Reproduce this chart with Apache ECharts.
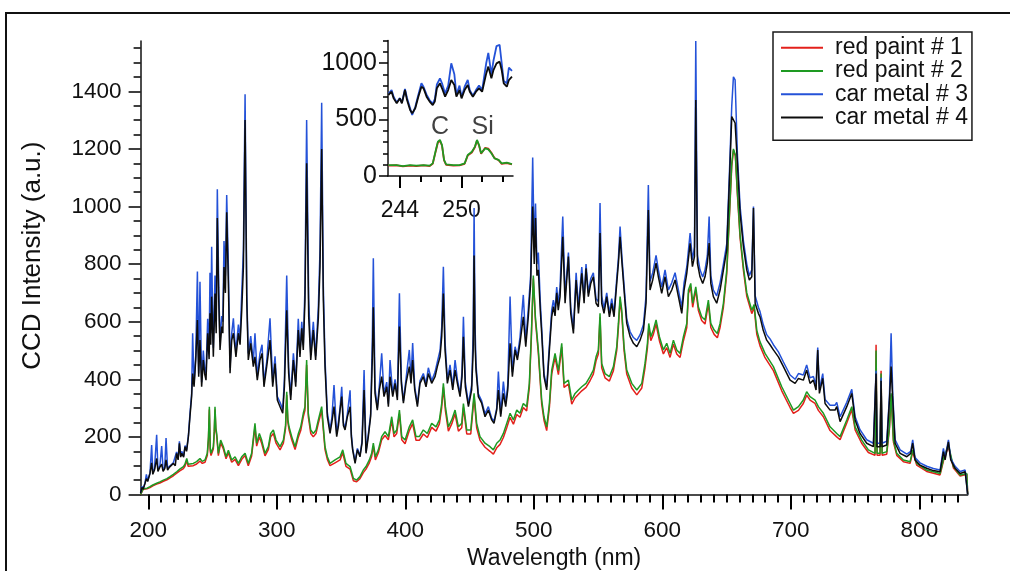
<!DOCTYPE html>
<html><head><meta charset="utf-8">
<script src="https://cdn.jsdelivr.net/npm/echarts@6/dist/echarts.min.js"></script>
<style>html,body{margin:0;padding:0;background:#fff}#c{width:1010px;height:571px}</style>
</head><body><div id="c"></div>
<script>
// ---------- DATA ----------
const seriesNames = ['red paint # 1', 'red paint # 2', 'car metal # 3', 'car metal # 4'];

// car metal spectra (wavelength in nm)
const wlMetal = [
194.0,195.0,196.0,197.4,198.5,199.5,201.3,202.6,203.5,204.8,
206.5,207.5,209.0,210.4,211.5,212.8,213.8,215.0,216.5,218.0,
219.5,221.0,222.0,223.2,224.2,225.2,226.0,227.5,228.6,229.8,
231.2,232.4,233.7,234.5,235.6,236.9,238.2,239.2,240.2,241.5,
242.8,243.8,244.9,246.2,247.3,248.0,248.6,249.3,250.1,250.6,
251.9,252.8,253.7,254.8,255.8,257.1,258.0,258.9,260.0,261.0,
262.3,263.6,264.9,266.2,267.2,268.2,270.1,271.4,272.7,274.0,
275.3,276.6,277.8,279.7,281.7,283.0,284.8,286.9,288.5,290.0,
292.1,294.7,296.8,298.6,300.4,302.5,304.6,305.9,307.7,309.2,
310.8,312.9,314.7,316.7,318.0,319.4,320.6,321.9,323.2,324.8,
326.4,328.4,330.2,332.3,333.6,334.9,336.2,337.5,339.3,341.4,
342.8,344.5,346.6,348.0,349.2,350.5,351.8,353.1,354.9,357.0,
358.0,359.0,360.9,362.7,364.7,366.3,367.9,369.4,371.2,373.0,
374.3,375.1,376.4,378.2,379.8,381.6,383.4,385.5,386.8,388.1,
390.2,392.0,393.8,395.4,396.9,398.5,400.5,403.1,404.4,405.7,
407.3,409.4,411.4,414.0,416.1,417.9,420.5,423.1,424.9,427.0,
428.3,429.6,430.9,432.7,434.8,436.9,438.7,440.5,442.6,444.1,
445.2,446.7,449.1,451.6,452.8,453.5,454.3,455.0,456.8,459.4,
462.0,464.6,467.2,469.0,471.1,472.4,474.2,476.3,478.1,479.7,
481.5,483.3,485.4,487.2,489.2,491.8,493.7,495.7,497.5,499.1,
500.3,501.3,502.4,503.5,505.0,506.1,507.9,510.0,512.1,513.9,
515.2,516.5,517.8,519.0,520.4,522.5,524.3,526.9,528.7,530.8,
532.9,534.7,537.3,539.1,540.6,542.4,544.3,546.3,548.4,550.2,
551.5,552.8,554.6,556.7,558.8,560.6,562.4,564.5,565.8,567.1,
568.6,571.0,572.3,574.9,577.5,580.1,582.7,585.3,587.3,589.1,
590.4,592.5,595.1,596.9,599.5,602.1,604.7,607.3,609.9,612.5,
615.1,616.9,619.0,621.6,623.4,625.0,626.0,627.3,629.3,631.4,
633.2,635.0,636.4,637.7,639.7,642.3,644.9,647.5,650.1,652.2,
654.0,655.3,656.6,658.4,660.5,663.1,665.7,667.7,669.6,670.9,
672.2,674.7,676.0,678.5,681.2,683.8,686.4,690.3,694.2,699.4,
703.3,705.9,709.7,712.3,714.9,717.5,719.6,720.9,722.2,724.8,
726.6,730.5,734.4,735.7,738.3,743.5,747.4,750.0,753.8,759.0,
764.2,765.6,766.3,767.0,769.5,770.2,770.9,774.6,776.7,778.0,
779.3,781.1,785.0,790.2,793.3,794.8,796.6,800.5,805.7,810.9,
816.1,818.7,820.0,822.6,824.4,827.8,831.7,835.6,836.9,837.6
];
const carMetal4 = [
5,25,18,38,55,45,73,110,70,85,
125,80,95,105,80,90,120,85,95,90,
108,100,143,120,178,130,143,130,166,150,
201,270,340,420,374,467,606,409,536,374,
467,420,397,560,470,629,520,687,560,478,
698,560,960,675,502,583,560,790,700,980,
733,421,536,560,520,478,560,520,640,791,
1300,675,467,525,444,478,397,467,490,374,
444,536,374,455,328,305,282,374,640,421,
328,467,374,571,478,577,502,675,1150,617,
467,571,467,612,791,1200,675,444,270,212,
250,305,201,240,293,340,240,224,270,305,
200,155,108,155,131,178,363,143,201,270,
470,650,351,293,363,409,340,374,305,409,
340,386,328,583,386,317,386,444,386,467,
363,305,386,409,374,420,386,409,444,478,
548,698,502,386,432,363,432,386,340,409,
548,374,305,363,500,830,520,432,340,317,
270,293,259,247,293,363,270,351,305,363,
525,409,502,467,525,617,513,617,733,1000,
800,960,760,780,640,560,409,363,502,617,
652,620,700,640,687,895,664,826,629,559,
745,629,768,664,785,687,733,756,664,652,
908,664,629,687,617,664,617,733,803,895,
803,664,594,548,525,513,536,571,664,988,
710,745,803,756,698,756,687,710,745,687,
629,710,768,872,791,826,1370,803,756,733,
756,803,873,733,687,664,710,779,849,1092,
1312,1312,1290,1150,976,860,779,745,756,995,
664,629,617,570,536,520,502,478,444,397,
386,403,397,432,386,397,363,502,351,403,
316,293,293,305,253,305,351,259,212,178,
166,166,420,166,166,395,166,172,328,444,
328,178,143,131,143,178,120,102,91,83,
79,149,120,183,120,91,73,79,85,0
];
const carMetal3 = [
5,28,20,40,70,48,75,172,75,90,
207,85,100,168,85,95,196,90,98,95,
110,105,148,125,185,135,150,135,170,155,
205,280,350,560,385,480,774,420,739,390,
500,440,420,610,500,770,560,860,600,510,
760,600,1060,720,530,620,600,880,760,1040,
790,440,560,612,540,500,590,540,700,850,
1390,700,490,550,460,560,410,490,520,390,
460,612,390,480,340,320,295,400,760,440,
345,490,390,610,490,600,520,720,1300,680,
490,600,480,650,850,1360,720,470,285,225,
265,380,210,255,300,374,250,230,280,362,
210,160,115,160,135,185,432,150,210,280,
530,820,370,300,380,490,350,390,315,467,
350,400,340,699,400,325,400,502,400,526,
375,315,395,420,385,440,395,425,460,500,
580,791,530,400,450,375,467,400,350,425,
617,390,315,380,560,995,580,450,350,325,
280,305,265,255,300,427,280,392,315,380,
687,425,513,480,545,693,530,646,760,1170,
850,1010,800,840,670,580,420,373,520,640,
675,640,720,660,720,965,690,840,650,575,
770,650,790,680,800,700,750,770,680,670,
1012,690,645,700,630,680,630,750,820,930,
820,680,610,565,545,535,555,590,690,1075,
740,770,830,780,720,780,710,735,770,710,
650,735,790,908,815,860,1575,830,780,755,
780,830,965,760,710,690,735,800,870,1120,
1350,1450,1440,1180,1000,880,800,760,780,1000,
690,650,635,590,555,540,520,495,460,415,
400,420,415,450,405,410,380,510,365,420,
330,310,310,320,270,320,365,270,225,190,
178,178,430,178,178,405,178,185,340,560,
345,190,155,140,150,190,128,110,98,90,
85,160,128,190,125,98,80,85,90,0
];

// red paint spectra
const wlPaint = [
194.0,194.8,196.0,197.4,199.0,201.3,203.5,206.5,209.0,211.7,
214.5,216.9,219.5,222.1,224.5,227.3,228.5,229.9,231.0,232.0,
235.0,237.6,240.2,242.0,244.1,245.9,246.8,247.5,248.2,248.8,
250.6,251.3,251.9,252.6,253.2,254.5,256.3,258.4,260.5,262.3,
264.9,267.5,270.1,272.7,275.3,277.8,280.4,283.0,284.3,286.4,
288.2,290.8,293.4,295.2,297.3,299.4,302.5,305.1,306.8,307.7,
308.6,309.5,311.6,314.2,316.8,318.6,320.6,321.9,323.2,324.5,
326.4,328.4,330.5,332.3,333.6,334.9,336.2,337.5,339.3,341.4,
345.3,349.2,351.3,353.8,357.0,359.6,362.1,364.7,367.3,369.4,
372.0,373.8,375.1,376.7,379.0,381.6,384.2,386.8,389.4,391.2,
393.3,395.4,397.2,399.8,403.1,405.7,408.3,410.9,414.0,417.1,
420.5,423.9,426.5,428.3,429.6,431.2,433.5,436.1,438.7,441.3,
443.9,445.2,447.8,450.9,453.5,455.5,458.1,462.0,465.9,468.5,
471.1,473.7,476.3,478.9,481.5,484.1,486.7,489.2,491.8,494.4,
496.5,498.1,499.6,501.2,503.5,506.1,507.9,510.0,512.1,513.9,
516.5,519.1,521.7,523.5,526.9,529.5,532.1,534.7,537.3,540.6,
543.7,546.3,548.4,550.2,551.5,552.8,555.4,558.8,561.9,564.5,
565.8,567.1,568.4,570.2,572.3,576.2,580.1,584.0,586.5,588.4,
589.4,591.0,593.0,595.1,597.7,600.8,603.4,606.0,608.6,611.2,
613.8,616.4,619.0,620.3,622.1,623.6,626.0,628.0,630.6,633.2,
635.8,637.7,640.3,642.8,644.9,647.5,650.1,652.2,654.0,655.3,
656.8,658.4,660.5,663.1,665.7,669.6,671.4,673.5,676.0,679.9,
686.4,692.9,699.4,702.0,705.9,709.7,712.3,714.9,718.8,721.4,
725.3,730.5,735.7,738.3,743.5,747.4,750.0,755.1,760.3,765.5,
766.3,767.1,769.4,770.2,771.0,774.6,776.7,778.0,779.8,782.4,
787.6,792.8,794.8,797.9,805.7,816.1,819.2,822.6,826.5,831.7,
836.9,837.6
];
const redPaint2 = [
0,4,20,16,22,27,33,39,44,50,
55,62,70,79,88,97,105,125,105,102,
108,114,125,115,120,143,200,305,160,143,
166,220,305,230,212,143,189,166,131,154,
120,131,108,131,143,108,143,247,178,212,
189,143,166,212,224,189,166,189,240,357,
260,235,201,166,212,235,282,305,467,282,
224,212,224,259,282,305,235,166,131,108,
120,131,155,108,97,56,50,62,85,97,
120,143,178,131,155,201,218,201,270,212,
224,293,201,189,235,259,201,201,224,212,
247,235,259,316,386,305,235,259,293,235,
247,316,224,224,351,247,201,178,166,155,
178,189,212,247,282,259,293,282,316,305,
386,560,760,617,502,328,270,235,316,432,
490,430,525,386,397,328,351,363,374,386,
409,432,478,502,629,455,420,409,444,513,
594,687,640,513,432,386,363,386,455,525,
594,548,571,606,548,502,525,490,536,502,
490,548,594,710,733,664,721,652,617,606,
675,594,571,559,594,664,779,976,1150,1200,
1180,1050,900,790,700,640,660,570,530,490,
444,374,316,293,305,328,357,340,328,305,
282,235,212,201,259,305,235,189,155,143,
500,143,143,420,143,149,235,351,189,143,
120,114,155,108,85,73,131,172,97,68,
73,0
];
const redPaint1 = [
0,4,18,14,20,24,30,36,40,46,
51,58,65,74,82,90,98,118,98,95,
100,106,116,108,112,135,190,295,150,135,
158,210,295,220,205,135,180,158,124,145,
112,122,100,122,135,100,134,235,168,200,
178,134,156,200,212,178,155,178,230,345,
250,225,190,156,200,222,270,292,450,270,
212,200,212,247,270,292,224,156,122,100,
110,120,145,98,88,48,44,55,76,88,
110,132,168,120,145,190,205,190,258,200,
212,280,190,176,222,246,188,188,210,198,
233,220,245,302,372,290,220,245,280,220,
232,302,210,210,338,232,188,164,150,140,
162,174,198,232,268,244,278,268,302,290,
372,548,750,605,490,315,258,222,302,418,
476,416,512,372,383,314,336,348,360,372,
395,418,464,488,615,440,405,394,430,500,
580,675,628,500,418,370,346,370,440,510,
580,534,556,592,534,488,510,476,522,488,
476,534,580,698,720,650,710,640,604,592,
662,580,556,544,580,650,766,965,1140,1195,
1175,1040,890,778,688,628,650,556,516,475,
430,360,302,282,292,316,345,328,316,292,
270,222,200,190,248,294,224,178,146,136,
520,136,136,430,136,140,228,345,182,136,
114,108,148,102,80,68,125,166,92,64,
70,0
];

// inset (243-255 nm detail)
const wlInsetMetal = [
242.9,243.2,243.4,243.7,244.0,244.2,244.5,244.7,245.0,245.2,
245.5,245.8,246.1,246.3,246.6,246.9,247.2,247.4,247.6,247.9,
248.1,248.4,248.7,249.0,249.3,249.5,249.8,250.0,250.3,250.6,
250.8,251.1,251.4,251.7,252.0,252.4,252.6,252.9,253.1,253.4,
253.7,253.9,254.1,254.4,254.6,254.9
];
const insetMetal4 = [
717,746,687,643,687,643,761,672,584,554,
599,702,790,776,702,658,628,658,776,820,
776,702,761,849,805,702,761,687,761,805,
746,702,746,776,746,908,968,864,938,997,
1012,938,820,790,849,879
];
const insetMetal3 = [
730,760,700,650,690,650,770,690,600,540,
610,720,820,790,720,670,640,680,810,864,
820,730,800,997,900,720,800,700,790,850,
760,710,760,800,760,1000,1090,900,1020,1150,
1160,1000,840,820,960,930
];
const wlInsetPaint = [
242.9,243.7,244.3,245.0,245.6,246.3,246.9,247.2,247.5,247.7,
247.9,248.1,248.3,248.5,249.2,249.8,250.3,250.6,251.0,251.3,
251.5,251.7,251.9,252.3,252.6,252.9,253.2,253.6,253.9,254.4,
254.9
];
const insetPaint2 = [
97,97,88,97,91,97,91,112,230,304,
319,274,142,103,97,97,112,186,215,260,
319,274,201,245,236,201,156,142,112,118,
106
];
const insetPaint1 = [
92,95,85,92,88,94,88,108,222,296,
312,268,138,98,92,94,108,180,208,255,
314,270,196,250,242,206,160,140,108,114,
102
];
const insetAnnotations = [
  { name: 'C', wl: 247.9, value: 430 },
  { name: 'Si', wl: 252.05, value: 430 }
];

// axes / ticks
const xRange = [194, 837.6];
const yRange = [0, 1575];
const xTickValues = [200, 300, 400, 500, 600, 700, 800];
const yTickValues = [0, 200, 400, 600, 800, 1000, 1200, 1400];
const insetXRange = [242.85, 255.0];
const insetYRange = [0, 1200];
const insetXTickValues = [244, 250];
const insetXMinorValues = [246, 248, 252, 254];
const insetYTickValues = [0, 500, 1000];

// ---------- BUILD ----------
const FONT = '"Liberation Sans", Arial, Helvetica, sans-serif';
const INK = '#111111';
const colors = ['#e3201b', '#1e9a22', '#2452d8', '#0c0c0c'];

function range(a, b, step) { const r = []; for (let v = a; v <= b + 1e-9; v += step) r.push(+v.toFixed(6)); return r; }
const xMinorValues = range(200, 830, 10);
const yMinorValues = range(0, 1550, 50);
const insetYMinorValues = range(0, 1200, 100);

function pairs(xs, ys) { return xs.map((x, i) => [x, ys[i]]); }
const plain = v => String(v);

const mkLine = () => ({ show: true, onZero: false, lineStyle: { color: INK, width: 1.5 } });
const mkTick = (w) => ({ color: '#000000', width: w, opacity: 1 });

function mainSeries(name, xs, ys, color, xi, yi, lw) {
  return { name, type: 'line', xAxisIndex: xi, yAxisIndex: yi, data: pairs(xs, ys),
    showSymbol: false, symbol: 'none', smooth: false, lineStyle: { color, width: lw },
    itemStyle: { color }, emphasis: { disabled: true }, silent: true };
}

const option = {
  animation: false,
  backgroundColor: '#ffffff',
  textStyle: { fontFamily: FONT },
  graphic: [{
    type: 'polyline', silent: true, z: 100,
    shape: { points: [[6, 571], [6, 13], [1010, 13]] },
    style: { stroke: '#111', lineWidth: 2, fill: null }
  }],
  legend: {
    data: seriesNames, orient: 'vertical', left: 773, top: 32,
    itemWidth: 42, itemHeight: 2, itemGap: 0, icon: 'rect',
    padding: [4, 4, 11, 8],
    borderColor: '#1a1a1a', borderWidth: 1.5, backgroundColor: '#fff',
    textStyle: { fontFamily: FONT, fontSize: 23, lineHeight: 23.3, color: INK, padding: [0, 0, 0, 7] },
    selectedMode: false
  },
  grid: [
    { left: 140.6, right: 42.3, top: 40.9, bottom: 76.5, outerBoundsMode: 'none', containLabel: false },
    { left: 388, top: 40.4, width: 125, height: 135.6, outerBoundsMode: 'none', containLabel: false }
  ],
  xAxis: [
    { type: 'value', gridIndex: 0, min: xRange[0], max: xRange[1], position: 'bottom',
      name: 'Wavelength (nm)', nameLocation: 'middle', nameGap: 52,
      nameTextStyle: { fontSize: 23, color: INK, fontFamily: FONT },
      axisLine: mkLine(), axisTick: { show: true, inside: false, customValues: xTickValues, length: 15, lineStyle: mkTick(2) },
      axisLabel: { customValues: xTickValues, formatter: plain, fontSize: 22.5, color: INK, margin: 25, fontFamily: FONT },
      splitLine: { show: false } },
    { type: 'value', gridIndex: 0, min: xRange[0], max: xRange[1], position: 'bottom',
      axisLine: { show: false, onZero: false }, axisTick: { show: true, inside: false, customValues: xMinorValues, length: 8, lineStyle: mkTick(2) },
      axisLabel: { show: false }, splitLine: { show: false } },
    { type: 'value', gridIndex: 1, min: insetXRange[0], max: insetXRange[1], position: 'bottom',
      axisLine: mkLine(), axisTick: { show: true, inside: false, customValues: insetXTickValues, length: 12, lineStyle: mkTick(2) },
      axisLabel: { customValues: insetXTickValues, formatter: plain, fontSize: 23, color: INK, margin: 23, fontFamily: FONT },
      splitLine: { show: false } },
    { type: 'value', gridIndex: 1, min: insetXRange[0], max: insetXRange[1], position: 'bottom',
      axisLine: { show: false, onZero: false }, axisTick: { show: true, inside: false, customValues: insetXMinorValues, length: 6, lineStyle: mkTick(2) },
      axisLabel: { show: false }, splitLine: { show: false } }
  ],
  yAxis: [
    { type: 'value', gridIndex: 0, min: yRange[0], max: yRange[1], position: 'left',
      name: 'CCD Intensity (a.u.)', nameLocation: 'middle', nameGap: 95, nameRotate: 90,
      nameTextStyle: { fontSize: 26, color: INK, fontFamily: FONT, padding: [0, 0, 0, 24] },
      axisLine: mkLine(), axisTick: { show: true, customValues: yTickValues, length: 12, lineStyle: mkTick(1.5) },
      axisLabel: { customValues: yTickValues, formatter: plain, fontSize: 22.5, color: INK, margin: 19, fontFamily: FONT },
      splitLine: { show: false } },
    { type: 'value', gridIndex: 0, min: yRange[0], max: yRange[1], position: 'left',
      axisLine: { show: false, onZero: false }, axisTick: { show: true, customValues: yMinorValues, length: 7, lineStyle: mkTick(1.5) },
      axisLabel: { show: false }, splitLine: { show: false } },
    { type: 'value', gridIndex: 1, min: insetYRange[0], max: insetYRange[1], position: 'left',
      axisLine: mkLine(), axisTick: { show: true, customValues: insetYTickValues, length: 9, lineStyle: mkTick(1.5) },
      axisLabel: { customValues: insetYTickValues, formatter: plain, fontSize: 25, color: INK, margin: 11, fontFamily: FONT },
      splitLine: { show: false } },
    { type: 'value', gridIndex: 1, min: insetYRange[0], max: insetYRange[1], position: 'left',
      axisLine: { show: false, onZero: false }, axisTick: { show: true, customValues: insetYMinorValues, length: 5, lineStyle: mkTick(1.5) },
      axisLabel: { show: false }, splitLine: { show: false } }
  ],
  series: [
    mainSeries(seriesNames[0], wlPaint, redPaint1, colors[0], 0, 0, 1.5),
    mainSeries(seriesNames[1], wlPaint, redPaint2, colors[1], 0, 0, 1.5),
    mainSeries(seriesNames[2], wlMetal, carMetal3, colors[2], 0, 0, 1.5),
    mainSeries(seriesNames[3], wlMetal, carMetal4, colors[3], 0, 0, 1.5),
    mainSeries('inset 1', wlInsetPaint, insetPaint1, colors[0], 2, 2, 1.8),
    mainSeries('inset 2', wlInsetPaint, insetPaint2, colors[1], 2, 2, 1.8),
    mainSeries('inset 3', wlInsetMetal, insetMetal3, colors[2], 2, 2, 1.8),
    mainSeries('inset 4', wlInsetMetal, insetMetal4, colors[3], 2, 2, 1.8),
    { name: 'inset labels', type: 'scatter', xAxisIndex: 2, yAxisIndex: 2, silent: true,
      symbolSize: 0, itemStyle: { color: 'rgba(0,0,0,0)' },
      data: insetAnnotations.map(a => ({ name: a.name, value: [a.wl, a.value] })),
      label: { show: true, position: 'inside', formatter: '{b}', fontSize: 25, color: INK, fontFamily: FONT } }
  ]
};

const problems = [];
if (wlMetal.length !== carMetal3.length || wlMetal.length !== carMetal4.length) problems.push('metal ' + wlMetal.length + '/' + carMetal3.length + '/' + carMetal4.length);
if (wlPaint.length !== redPaint1.length || wlPaint.length !== redPaint2.length) problems.push('paint ' + wlPaint.length + '/' + redPaint1.length + '/' + redPaint2.length);
if (wlInsetMetal.length !== insetMetal3.length || wlInsetMetal.length !== insetMetal4.length) problems.push('im ' + wlInsetMetal.length + '/' + insetMetal3.length + '/' + insetMetal4.length);
if (wlInsetPaint.length !== insetPaint1.length || wlInsetPaint.length !== insetPaint2.length) problems.push('ip ' + wlInsetPaint.length + '/' + insetPaint1.length + '/' + insetPaint2.length);
if (problems.length) option.title = { text: 'LEN MISMATCH ' + problems.join(' '), left: 200, top: 300 };

const chart = echarts.init(document.getElementById('c'), null, { renderer: 'canvas' });
chart.setOption(option);
</script>
</body></html>
